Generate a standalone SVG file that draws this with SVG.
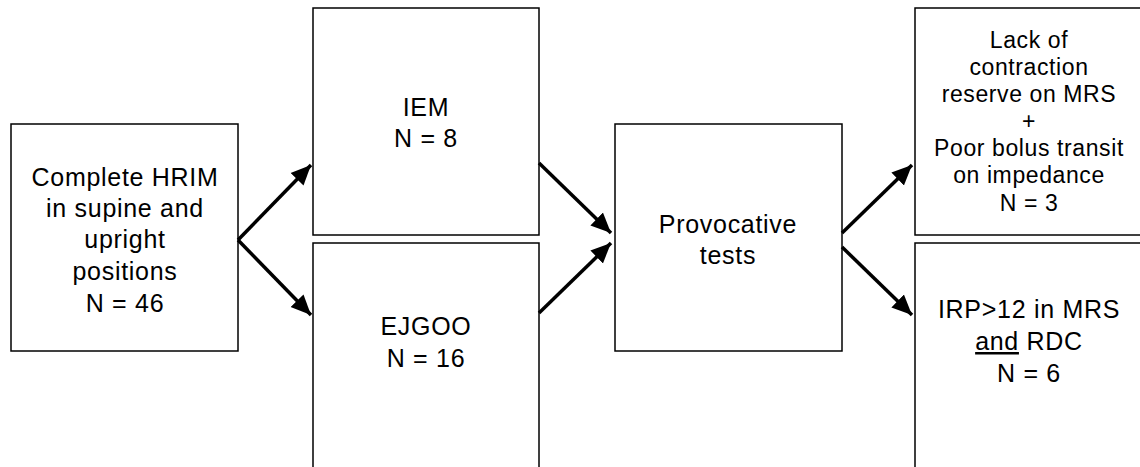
<svg xmlns="http://www.w3.org/2000/svg" width="1140" height="467" viewBox="0 0 1140 467">
<style>
.box{fill:#fff;stroke:#000;stroke-width:1.5}
.t{font-family:"Liberation Sans",Arial,sans-serif;font-size:25px;letter-spacing:0.7px;text-anchor:middle;fill:#000}
.s{font-size:23px;letter-spacing:0.6px}
.c{stroke:#000;stroke-width:3.5;fill:none;marker-end:url(#ah)}
</style>
<defs>
<marker id="ah" markerUnits="userSpaceOnUse" markerWidth="24" markerHeight="24" refX="20" refY="9" orient="auto" viewBox="0 0 24 18">
<path d="M0,0 L20,9 L0,18 Z" fill="#000"/>
</marker>
</defs>
<rect width="1140" height="467" fill="#fff"/>
<g id="n-hrim">
<rect class="box" x="11" y="124" width="227" height="227"/>
<text class="t" x="125" y="186">Complete HRIM</text>
<text class="t" x="125" y="217">in supine and</text>
<text class="t" x="125" y="248">upright</text>
<text class="t" x="125" y="280">positions</text>
<text class="t" x="125" y="312">N = 46</text>
</g>
<g id="n-iem">
<rect class="box" x="313" y="8" width="226" height="227"/>
<text class="t" x="426" y="116">IEM</text>
<text class="t" x="426" y="147">N = 8</text>
</g>
<g id="n-ejgoo">
<rect class="box" x="313" y="243" width="226" height="232"/>
<text class="t" x="426" y="335">EJGOO</text>
<text class="t" x="426" y="367">N = 16</text>
</g>
<g id="n-prov">
<rect class="box" x="615" y="124" width="227" height="227"/>
<text class="t" x="728" y="233">Provocative</text>
<text class="t" x="728" y="264">tests</text>
</g>
<g id="n-lack">
<rect class="box" x="915" y="8" width="228" height="227"/>
<text class="t s" x="1029" y="48">Lack of</text>
<text class="t s" x="1029" y="75">contraction</text>
<text class="t s" x="1029" y="102">reserve on MRS</text>
<text class="t s" x="1029" y="129">+</text>
<text class="t s" x="1029" y="156">Poor bolus transit</text>
<text class="t s" x="1029" y="183">on impedance</text>
<text class="t s" x="1029" y="211">N = 3</text>
</g>
<g id="n-irp">
<rect class="box" x="915" y="243" width="228" height="232"/>
<text class="t" x="1029" y="318">IRP&gt;12 in MRS</text>
<text class="t" x="1029" y="350"><tspan text-decoration="underline">and</tspan> RDC</text>
<text class="t" x="1029" y="382">N = 6</text>
</g>
<g id="connectors">
<line class="c" x1="238" y1="240" x2="311" y2="165"/>
<line class="c" x1="238" y1="240" x2="311" y2="315"/>
<line class="c" x1="539" y1="163" x2="611" y2="233"/>
<line class="c" x1="539" y1="313" x2="611" y2="243"/>
<line class="c" x1="842" y1="233" x2="912" y2="165"/>
<line class="c" x1="842" y1="247" x2="912" y2="315"/>
</g>
</svg>
